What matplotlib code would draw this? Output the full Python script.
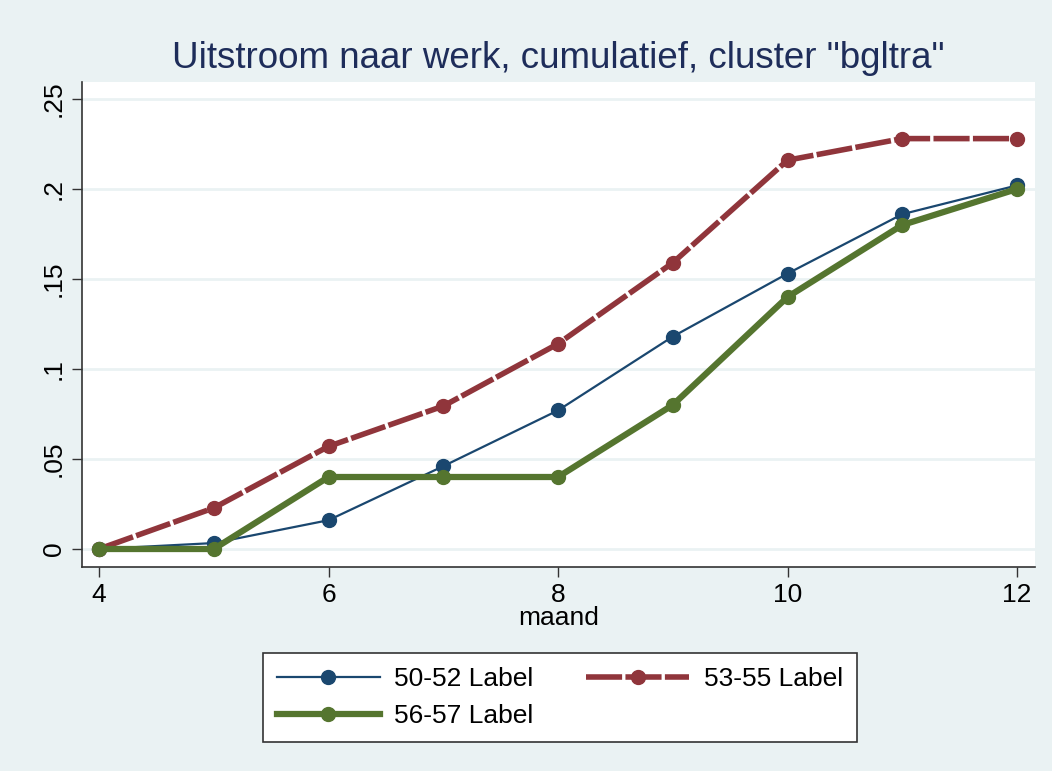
import matplotlib
matplotlib.use("Agg")
import matplotlib.pyplot as plt

maand = [4, 5, 6, 7, 8, 9, 10, 11, 12]
s_50_52 = [0.0, 0.0033, 0.016, 0.046, 0.077, 0.118, 0.153, 0.186, 0.202]
s_53_55 = [0.0, 0.0228, 0.057, 0.0794, 0.114, 0.159, 0.216, 0.228, 0.228]
s_56_57 = [0.0, 0.0, 0.04, 0.04, 0.04, 0.08, 0.14, 0.18, 0.20]
labels = ["50-52 Label", "53-55 Label", "56-57 Label"]
yticks = [0, 0.05, 0.1, 0.15, 0.2, 0.25]
yticklabels = ["0", ".05", ".1", ".15", ".2", ".25"]
xticks = [4, 6, 8, 10, 12]

plt.rcParams['font.family'] = ['Liberation Sans', 'DejaVu Sans']
bg = '#EAF2F3'
fig = plt.figure(figsize=(10.52, 7.71), dpi=100, facecolor=bg)
ax = fig.add_axes([82/1052, 1-567/771, (1035-82)/1052, (567-82)/771])
ax.set_facecolor('white')

l1, = ax.plot(maand, s_50_52, color='#1A476F', lw=1.6, marker='o', ms=10, zorder=3)
l2, = ax.plot(maand, s_53_55, color='#90353B', lw=4, marker='o', ms=10,
              dashes=(6.5, 0.6), zorder=3)
l3, = ax.plot(maand, s_56_57, color='#55752F', lw=4.5, marker='o', ms=10, zorder=3)

ax.set_xlim(4 - 17/114.75, 12 + 18/114.75)
ax.set_ylim(-0.01, 0.25 + 17/1800)
ax.set_yticks(yticks)
ax.set_yticklabels(yticklabels, rotation=90, va='center')
ax.set_xticks(xticks)
ax.tick_params(axis='both', labelsize=19, length=7.5, width=1, color='#333333', pad=4)
ax.grid(axis='y', color=bg, lw=2)
for s in ['top', 'right']:
    ax.spines[s].set_visible(False)
for s in ['left', 'bottom']:
    ax.spines[s].set_color('#333333')
    ax.spines[s].set_linewidth(1.2)
ax.set_xlabel('maand', fontsize=19, labelpad=-1)

fig.text(558/1052, 1-58/771, 'Uitstroom naar werk, cumulatief, cluster "bgltra"',
         ha='center', va='center', fontsize=26.5, color='#1E2D5A')

leg = fig.legend([l1, l3, l2], [labels[0], labels[2], labels[1]], ncol=2,
                 loc='upper left',
                 bbox_to_anchor=(263/1052, 1-740/771, (857-263)/1052, 87/771),
                 mode='expand', borderaxespad=0, fontsize=19,
                 handlelength=3.9, handletextpad=0.55,
                 frameon=True,
                 fancybox=False, edgecolor='#333333', framealpha=1,
                 borderpad=0.53, labelspacing=0.5, columnspacing=1.5)
leg.get_frame().set_linewidth(1.2)

fig.savefig('out.png', dpi=100, facecolor=bg)
